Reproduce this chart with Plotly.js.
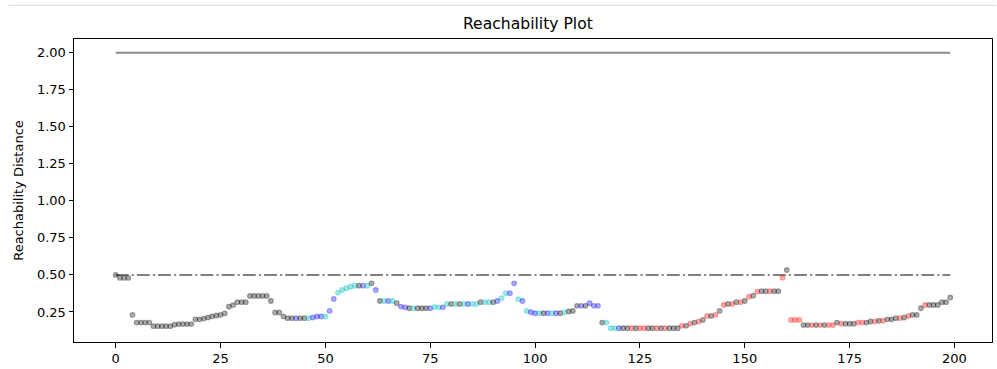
<!DOCTYPE html>
<html>
<head>
<meta charset="utf-8">
<script src="https://cdn.plot.ly/plotly-3.0.1.min.js"></script>
<style>html,body{margin:0;padding:0;background:#fff;}#chart{width:997px;height:369px;}</style>
</head>
<body>
<div id="chart"></div>
<script>
// Reachability distance for each point in OPTICS ordering (index = position)
var reachability = [
  0.500,0.480,0.480,0.480,0.230,0.178,0.178,0.178,0.178,0.154,
  0.154,0.154,0.154,0.154,0.163,0.168,0.168,0.168,0.168,0.200,
  0.200,0.205,0.212,0.220,0.226,0.230,0.240,0.285,0.296,0.316,
  0.316,0.316,0.358,0.358,0.358,0.358,0.358,0.324,0.246,0.246,
  0.219,0.208,0.208,0.208,0.208,0.208,0.208,0.212,0.219,0.219,
  0.219,0.257,0.338,0.380,0.398,0.410,0.420,0.427,0.427,0.427,
  0.427,0.443,0.398,0.324,0.324,0.324,0.324,0.309,0.286,0.281,
  0.275,0.275,0.275,0.275,0.275,0.275,0.283,0.281,0.281,0.304,
  0.304,0.304,0.304,0.304,0.304,0.304,0.304,0.316,0.316,0.316,
  0.316,0.324,0.342,0.376,0.376,0.443,0.336,0.324,0.257,0.248,
  0.241,0.241,0.241,0.241,0.241,0.241,0.241,0.246,0.253,0.257,
  0.291,0.291,0.291,0.309,0.291,0.291,0.178,0.178,0.140,0.140,
  0.140,0.140,0.140,0.140,0.140,0.140,0.140,0.140,0.140,0.140,
  0.140,0.140,0.140,0.140,0.140,0.156,0.156,0.170,0.178,0.185,
  0.196,0.223,0.223,0.230,0.257,0.297,0.304,0.304,0.316,0.316,
  0.324,0.353,0.360,0.387,0.390,0.390,0.390,0.390,0.390,0.481,
  0.533,0.196,0.196,0.196,0.161,0.161,0.161,0.161,0.161,0.161,
  0.161,0.161,0.178,0.170,0.170,0.170,0.170,0.178,0.178,0.178,
  0.185,0.185,0.190,0.190,0.200,0.200,0.208,0.208,0.212,0.223,
  0.230,0.230,0.275,0.297,0.297,0.297,0.297,0.316,0.316,0.347
];
// cluster label per point: k = noise, b/c/r = clusters
var labels = (
  "kkkkkkkkkk" + "kkkkkkkkkk" + "kkkkkkkkkk" + "kkkkkkkkkk" +
  "kkkbkkcbbb" + "cbbccccckb" + "ckbkcbckbb" + "kckkkbccbc" +
  "kckcbcckcc" + "kbccbbcbcb" + "bckbcbkckk" + "kbkbbbkccc" +
  "bkkrkrrkkr" + "krkkkrkrkr" + "krkrkrkrkr" + "krkrkkrkkr" +
  "krrrkkrkrk" + "rrkrkkkrrk" + "krkrkkkrkr" + "kkkrkkkkkk"
).split("");
var thresholds = [2.0, 0.5];
var xTicks = [0, 25, 50, 75, 100, 125, 150, 175, 200];
var yTicks = [0.25, 0.50, 0.75, 1.00, 1.25, 1.50, 1.75, 2.00];

var colorMap = {k: "rgba(0,0,0,0.33)", b: "rgba(0,0,255,0.33)", c: "rgba(0,191,191,0.36)", r: "rgba(255,0,0,0.33)"};
var order = reachability.map(function(_, i){ return i; });
var cols = labels.map(function(l){ return colorMap[l]; });
var xEnds = [order[0], order[order.length - 1]];

var traces = [
  {x: xEnds, y: [thresholds[0], thresholds[0]], mode: "lines", type: "scatter",
   line: {color: "rgba(0,0,0,0.45)", width: 2}, hoverinfo: "skip"},
  {x: xEnds, y: [thresholds[1], thresholds[1]], mode: "lines", type: "scatter",
   line: {color: "rgba(0,0,0,0.5)", width: 2, dash: "12.8px,3.2px,2px,3.2px"}, hoverinfo: "skip"},
  {x: order, y: reachability, mode: "markers", type: "scatter",
   marker: {size: 4.8, color: cols, line: {color: cols, width: 1.1}}}
];

var axisCommon = {
  showline: true, mirror: true, linecolor: "#000", linewidth: 1,
  ticks: "outside", ticklen: 4.5, tickwidth: 1, tickcolor: "#000",
  showgrid: false, zeroline: false,
  tickfont: {family: "DejaVu Sans", size: 13, color: "#000"}
};

var layout = {
  width: 997, height: 369,
  margin: {l: 74, r: 5, t: 39, b: 27},
  paper_bgcolor: "#fff", plot_bgcolor: "#fff",
  showlegend: false,
  title: {text: "Reachability Plot", x: 0.5295, xanchor: "center", y: 0.935, yanchor: "middle",
          font: {family: "DejaVu Sans", size: 15.6, color: "#000"}},
  xaxis: Object.assign({}, axisCommon, {range: [-9.95, 208.95], tickvals: xTicks,
          ticktext: xTicks.map(String)}),
  yaxis: Object.assign({}, axisCommon, {range: [0.047, 2.093], tickvals: yTicks,
          ticktext: yTicks.map(function(v){ return v.toFixed(2); }),
          title: {text: "Reachability Distance", standoff: 10,
                  font: {family: "DejaVu Sans", size: 13, color: "#000"}}}),
  shapes: [{type: "line", xref: "paper", yref: "paper", x0: -0.071, x1: 1.005,
            y0: 1.111, y1: 1.111, line: {color: "#dcdcdc", width: 1}}]
};

Plotly.newPlot("chart", traces, layout, {staticPlot: true, displayModeBar: false});
</script>
</body>
</html>
